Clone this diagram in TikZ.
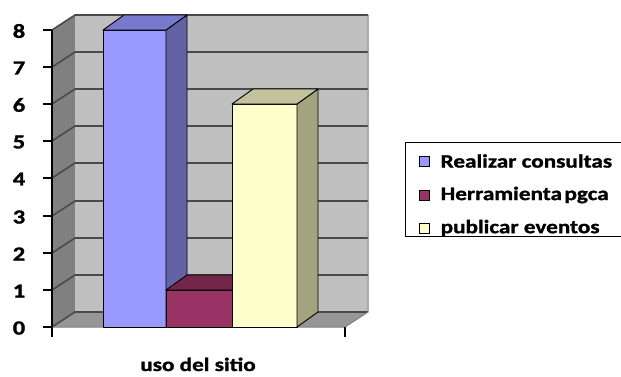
\documentclass[tikz,border=0pt]{standalone}
\usepackage{fontspec}
\setmainfont{Carlito}[BoldFeatures={FakeBold=1.2}]
\usetikzlibrary{positioning}
\definecolor{wallback}{HTML}{C0C0C0}
\definecolor{wallside}{HTML}{808080}
\definecolor{wallfloor}{HTML}{969696}
\definecolor{gridcol}{HTML}{4A4A4A}
\definecolor{blufront}{HTML}{9999FF}
\definecolor{bluside}{HTML}{6363A3}
\definecolor{blutop}{HTML}{7878CC}
\definecolor{marfront}{HTML}{993366}
\definecolor{martop}{HTML}{732649}
\definecolor{yelfront}{HTML}{FFFFCC}
\definecolor{yeltop}{HTML}{C2C29C}
\definecolor{yelside}{HTML}{A3A37F}
\tikzset{>=latex,
  gridline/.style={gridcol,line width=1.6pt},
  barline/.style={draw=black,line width=0.9pt,line join=round},
  chartfont/.style={font=\fontsize{19}{22}\selectfont\bfseries,xscale=1.22,inner sep=0pt},
  legkey/.style={draw=black,line width=0.8pt,minimum size=10pt,inner sep=0pt}}

\begin{document}
\begin{tikzpicture}[x=1pt,y=-1pt]
\useasboundingbox (0,0) rectangle (621,376);
% walls and floor
\fill[wallside] (52,30) -- (75,15) -- (75,312) -- (52,327) -- cycle;
\fill[wallback] (75,15) rectangle (368,312);
\fill[wallfloor] (52,327) -- (75,312) -- (368,312) -- (345,327) -- cycle;
\draw[gridline] (52,30) -- (75,15) -- (368,15);
\draw[gridline] (52,67) -- (75,52) -- (368,52);
\draw[gridline] (52,104) -- (75,89) -- (368,89);
\draw[gridline] (52,141) -- (75,126) -- (368,126);
\draw[gridline] (52,178) -- (75,163) -- (368,163);
\draw[gridline] (52,216) -- (75,201) -- (368,201);
\draw[gridline] (52,253) -- (75,238) -- (368,238);
\draw[gridline] (52,290) -- (75,275) -- (368,275);
\draw[gridline] (52,327) -- (75,312) -- (368,312);
\draw[gray,line width=1pt] (368,15) -- (368,312) -- (345,327) -- (52,327);
%\draw[gridline] (75,15) -- (75,312);

% axis and ticks
\draw[black,line width=1.2pt] (52,30) -- (52,327);
\draw[black,line width=1.2pt] (43,30) -- (52,30);
\draw[black,line width=1.2pt] (43,67) -- (52,67);
\draw[black,line width=1.2pt] (43,104) -- (52,104);
\draw[black,line width=1.2pt] (43,141) -- (52,141);
\draw[black,line width=1.2pt] (43,178) -- (52,178);
\draw[black,line width=1.2pt] (43,216) -- (52,216);
\draw[black,line width=1.2pt] (43,253) -- (52,253);
\draw[black,line width=1.2pt] (43,290) -- (52,290);
\draw[black,line width=1.2pt] (43,327) -- (52,327);
\draw[black,line width=1.2pt] (52,327) -- (52,337);
\draw[black,line width=1.2pt] (345,327) -- (345,337);

% bars
\filldraw[fill=blufront,barline] (103,30) rectangle (166,327);
\filldraw[fill=bluside,barline] (166,30) -- (187,15) -- (187,312) -- (166,327) -- cycle;
\filldraw[fill=blutop,barline] (103,30) -- (124,15) -- (187,15) -- (166,30) -- cycle;

\filldraw[fill=marfront,barline] (166,290) rectangle (232,327);
\filldraw[fill=martop,barline] (166,290) -- (187,275) -- (253,275) -- (232,290) -- cycle;

\filldraw[fill=yelfront,barline] (232,104) rectangle (297,327);
\filldraw[fill=yelside,barline] (297,104) -- (318,89) -- (318,312) -- (297,327) -- cycle;
\filldraw[fill=yeltop,barline] (232,104) -- (253,89) -- (318,89) -- (297,104) -- cycle;

% axis labels
\begin{scope}[every node/.style={chartfont}]
\node[font=\fontsize{20}{22}\selectfont\bfseries] (v8) at (19,31) {8};
\node[font=\fontsize{20}{22}\selectfont\bfseries] (v7) at (19,68) {7};
\node[font=\fontsize{20}{22}\selectfont\bfseries] (v6) at (19,105) {6};
\node[font=\fontsize{20}{22}\selectfont\bfseries] (v5) at (19,142) {5};
\node[font=\fontsize{20}{22}\selectfont\bfseries] (v4) at (19,179) {4};
\node[font=\fontsize{20}{22}\selectfont\bfseries] (v3) at (19,217) {3};
\node[font=\fontsize{20}{22}\selectfont\bfseries] (v2) at (19,254) {2};
\node[font=\fontsize{20}{22}\selectfont\bfseries] (v1) at (19,291) {1};
\node[font=\fontsize{20}{22}\selectfont\bfseries] (v0) at (19,328) {0};
\node[anchor=base] (cat) at (198,371) {uso del sitio};
\end{scope}

% legend
\draw[black,line width=1pt] (405,142) -- (630,142) (405,142) -- (405,236) -- (630,236);
\node[legkey,fill=blufront] (k1) at (424,161) {};
\node[legkey,fill=marfront] (k2) at (424,195) {};
\node[legkey,fill=yelfront] (k3) at (424,228) {};
\node[chartfont,right=11pt of k1] (t1) {Realizar consultas};
\node[chartfont,right=11pt of k2] (t2) {Herramienta\hspace{2pt}pgca};
\node[chartfont,right=11pt of k3] (t3) {publicar eventos};
\end{tikzpicture}
\end{document}
